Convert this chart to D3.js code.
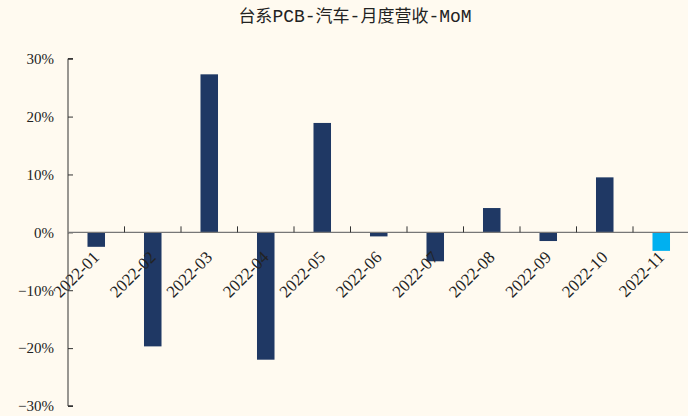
<!DOCTYPE html>
<html><head><meta charset="utf-8">
<script src="https://cdn.jsdelivr.net/npm/d3@7"></script>
<style>html,body{margin:0;padding:0;background:#fffaf0;}svg{display:block;}</style>
</head><body>
<script>
const title = "台系PCB-汽车-月度营收-MoM";
const categories = ["2022-01","2022-02","2022-03","2022-04","2022-05","2022-06","2022-07","2022-08","2022-09","2022-10","2022-11"];
const values = [-2.5, -19.7, 27.3, -22.0, 18.9, -0.7, -5.0, 4.2, -1.5, 9.5, -3.2];
const barColors = ["#1f3864","#1f3864","#1f3864","#1f3864","#1f3864","#1f3864","#1f3864","#1f3864","#1f3864","#1f3864","#00b0f0"];
const yTicks = [-30, -20, -10, 0, 10, 20, 30];

const W = 688, H = 416;
const svg = d3.select("body").append("svg").attr("width", W).attr("height", H);
svg.append("rect").attr("width", W).attr("height", H).attr("fill", "#fffaf0");

const font = "'Liberation Serif', 'Noto Sans CJK SC', serif";
const x = d3.scaleBand().domain(categories).range([68, 689.5]).paddingInner(0.69).paddingOuter(0.345);
const xb = d3.scaleBand().domain(categories).range([68, 689.5]);
const y = d3.scaleLinear().domain([-30, 30]).range([406, 58.7]);

// title: split into CJK / Latin runs
const runs = title.match(/[\u3000-\u9fff]+|[^\u3000-\u9fff]+/g);
const t = svg.append("text").attr("x", 355).attr("y", 22).attr("text-anchor", "middle").attr("fill", "#222");
runs.forEach(r => {
  const cjk = /[\u3000-\u9fff]/.test(r);
  t.append("tspan")
    .attr("font-family", cjk ? "'Noto Sans CJK SC'" : "'Liberation Mono', monospace")
    .attr("font-size", cjk ? 17 : 18)
    .text(r);
});

// bars
svg.append("g").selectAll("rect").data(values).join("rect")
  .attr("x", (d, i) => x(categories[i]))
  .attr("width", x.bandwidth())
  .attr("y", d => y(Math.max(0, d)))
  .attr("height", d => Math.abs(y(d) - y(0)))
  .attr("fill", (d, i) => barColors[i]);

// y axis
const yAxis = d3.axisRight(y).tickValues(yTicks).tickSize(5).tickFormat(d => (d < 0 ? "\u2212" : "") + Math.abs(d) + "%");
const gy = svg.append("g").attr("transform", "translate(68,0)").call(yAxis);
gy.select(".domain").attr("stroke", "#333").attr("d", `M0,${y(30)}H5H0V${y(-30)}H5H0`);
gy.selectAll(".tick line").attr("stroke", "#333");
gy.selectAll(".tick text").attr("x", -14).attr("text-anchor", "end")
  .attr("font-family", font).attr("font-size", 15).attr("fill", "#222");

// x axis at zero
const gx = svg.append("g").attr("transform", `translate(0,${y(0)})`);
gx.append("line").attr("x1", 68).attr("x2", 688).attr("stroke", "#777").attr("stroke-width", 1.2);
gx.selectAll("line.tk").data(categories.slice(1)).join("line").attr("class", "tk")
  .attr("x1", d => xb(d)).attr("x2", d => xb(d)).attr("y1", 0).attr("y2", -6).attr("stroke", "#333");
gx.selectAll("text").data(categories).join("text")
  .attr("transform", d => `translate(${xb(d) + xb.bandwidth() / 2 + 4},26) rotate(-45)`)
  .attr("text-anchor", "end")
  .attr("font-family", font).attr("font-size", 17).attr("fill", "#222").text(d => d);
</script>
</body></html>
